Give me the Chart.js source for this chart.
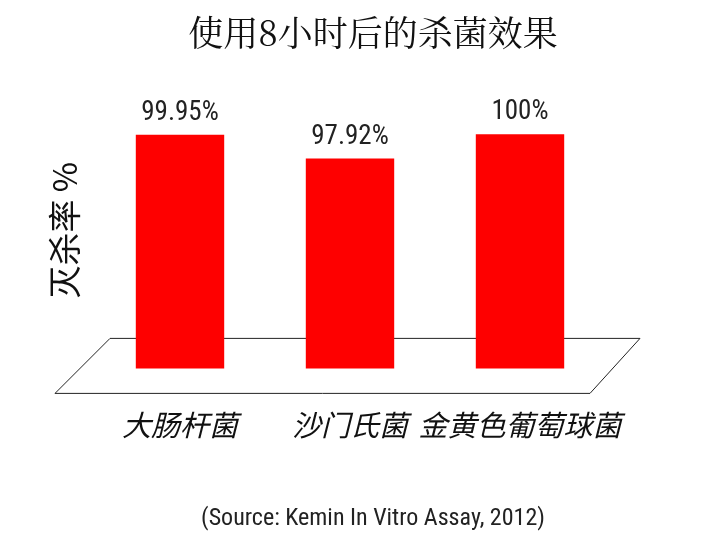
<!DOCTYPE html>
<html><head><meta charset="utf-8">
<script src="https://cdn.jsdelivr.net/npm/chart.js@4/dist/chart.umd.min.js"></script>
<style>body{margin:0;background:#fff}#wrap{width:701px;height:547px}</style>
</head><body><div id="wrap"><canvas id="c"></canvas></div>
<script>
const categories = ['大肠杆菌', '沙门氏菌', '金黄色葡萄球菌']
const killRates = [99.95, 97.92, 100]
const valueLabels = ['99.95%', '97.92%', '100%']

const narrow = '"Liberation Sans Narrow", "Roboto Condensed", "DejaVu Sans Condensed", sans-serif'

// floor parallelogram + value labels above each bar
const decor = {
    id: 'decor',
    beforeDatasetsDraw(chart) {
        const ctx = chart.ctx, a = chart.chartArea
        ctx.save()
        ctx.strokeStyle = '#222'
        ctx.lineWidth = 1
        ctx.beginPath()
        ctx.moveTo(a.left + 15, a.bottom - 30)
        ctx.lineTo(a.right + 35, a.bottom - 30)
        ctx.lineTo(a.right - 15, a.bottom + 25)
        ctx.lineTo(a.left - 40, a.bottom + 25)
        ctx.closePath()
        ctx.stroke()
        ctx.restore()
    },
    afterDatasetsDraw(chart) {
        const ctx = chart.ctx
        ctx.save()
        ctx.font = '27px ' + narrow
        ctx.fillStyle = '#222'
        ctx.textAlign = 'center'
        ctx.textBaseline = 'bottom'
        chart.getDatasetMeta(0).data.forEach((bar, i) => {
            ctx.fillText(valueLabels[i], bar.x, bar.y - 8)
        })
        ctx.restore()
    }
}

new Chart('c', {
    type: 'bar',
    data: {
        labels: categories,
        datasets: [{
            data: killRates,
            backgroundColor: '#fe0000',
            categoryPercentage: 1,
            barPercentage: 0.52
        }]
    },
    options: {
        responsive: true,
        maintainAspectRatio: false,
        animation: false,
        layout: { padding: { left: 45, right: 0, top: 0, bottom: 0 } },
        scales: {
            x: {
                grid: { display: false },
                border: { display: false },
                ticks: {
                    padding: 31,
                    maxRotation: 0,
                    autoSkip: false,
                    color: '#111',
                    font: { family: '"Noto Sans CJK SC"', size: 29, style: 'italic' }
                }
            },
            y: {
                min: 80,
                max: 103.6,
                grid: { display: false },
                border: { display: false },
                ticks: { display: false },
                afterFit(s) { s.width = 50 },
                title: {
                    display: true,
                    text: '灭杀率 %',
                    color: '#111',
                    padding: 0,
                    font: { family: '"Noto Sans CJK SC"', size: 33 }
                }
            },
            y2: {
                position: 'right',
                grid: { display: false },
                border: { display: false },
                ticks: { display: false },
                afterFit(s) { s.width = 96 }
            }
        },
        plugins: {
            legend: { display: false },
            tooltip: { enabled: false },
            title: {
                display: true,
                text: '使用8小时后的杀菌效果',
                color: '#111',
                padding: { top: 12, bottom: 38 },
                font: { family: '"Noto Serif CJK SC", "Noto Sans CJK SC"', size: 35, weight: 'normal' }
            },
            subtitle: {
                display: true,
                position: 'bottom',
                text: '(Source: Kemin In Vitro Assay, 2012)',
                color: '#222',
                padding: { top: 31, bottom: 14 },
                font: { family: narrow, size: 24 }
            }
        }
    },
    plugins: [decor]
})
</script></body></html>
